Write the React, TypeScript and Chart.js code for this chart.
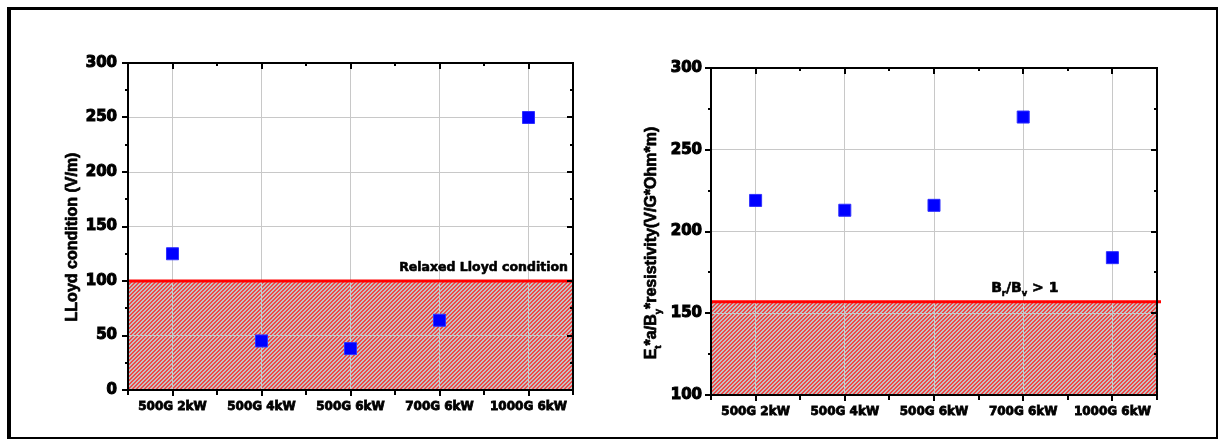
import React, { useEffect, useRef } from 'react';
import { Chart, registerables } from 'chart.js';

Chart.register(...registerables);

// ---------- data ----------
const categories = ['500G 2kW', '500G 4kW', '500G 6kW', '700G 6kW', '1000G 6kW'];

const lloydValues = [125, 45, 38, 64, 250];
const lloydThreshold = 100;
const lloydTicks = [0, 50, 100, 150, 200, 250, 300];

const resistValues = [219, 213, 216, 270, 184];
const resistThreshold = 157;
const resistTicks = [100, 150, 200, 250, 300];

type Seg = { text: string; sub?: boolean };

const lloydTitle: Seg[] = [{ text: 'LLoyd condition (V/m)' }];
const resistTitle: Seg[] = [
  { text: 'E' },
  { text: 't', sub: true },
  { text: '*a/B' },
  { text: 'y', sub: true },
  { text: '*resistivity(V/G*Ohm*m)' },
];
const lloydNote: Seg[] = [{ text: 'Relaxed Lloyd condition' }];
const resistNote: Seg[] = [
  { text: 'B' },
  { text: 'r', sub: true },
  { text: '/B' },
  { text: 'v', sub: true },
  { text: ' > 1' },
];

// ---------- helpers ----------
function drawSegs(
  ctx: CanvasRenderingContext2D,
  segs: Seg[],
  x: number,
  y: number,
  size: number,
  family: string,
  align: 'left' | 'center' | 'right',
  stroke: number
) {
  const subSize = size * 0.6;
  const fontMain = `bold ${size}px ${family}`;
  const fontSub = `bold ${subSize}px ${family}`;
  let total = 0;
  const widths = segs.map((s) => {
    ctx.font = s.sub ? fontSub : fontMain;
    const w = ctx.measureText(s.text).width;
    total += w;
    return w;
  });
  let cx = align === 'left' ? x : align === 'right' ? x - total : x - total / 2;
  ctx.textBaseline = 'alphabetic';
  ctx.textAlign = 'left';
  ctx.strokeStyle = '#000';
  ctx.lineWidth = stroke;
  ctx.lineJoin = 'round';
  segs.forEach((s, i) => {
    ctx.font = s.sub ? fontSub : fontMain;
    const yy = s.sub ? y + size * 0.3 : y;
    ctx.fillText(s.text, cx, yy);
    if (stroke > 0) ctx.strokeText(s.text, cx, yy);
    cx += widths[i];
  });
}

function makePattern(ctx: CanvasRenderingContext2D) {
  const c = document.createElement('canvas');
  c.width = 4;
  c.height = 4;
  const p = c.getContext('2d')!;
  for (let yy = 0; yy < 4; yy++) {
    for (let xx = 0; xx < 4; xx++) {
      p.fillStyle = (xx + yy) % 4 < 2 ? '#f04848' : '#c2c2c2';
      p.fillRect(xx, yy, 1, 1);
    }
  }
  return ctx.createPattern(c, 'repeat');
}

type PanelOpts = {
  values: number[];
  threshold: number;
  ticks: number[];
  min: number;
  max: number;
  minorStep: number;
  padding: { left: number; right: number; top: number; bottom: number };
  xHeight: number;
  yPad: number;
  title: Seg[];
  titleX: number;
  titleY: number;
  note: Seg[];
  noteSize: number;
  noteAlign: 'left' | 'right';
  noteIndex: number; // category anchor (-1 = right edge)
  noteDx: number;
  noteDy: number;
  lineExtend: number;
};

function buildConfig(o: PanelOpts): any {
  let pattern: CanvasPattern | null = null;
  const decor = {
    id: 'decor',
    beforeDraw(chart: any) {
      const { ctx, chartArea } = chart;
      const { left, right, bottom } = chartArea;
      const y = chart.scales.y;
      if (!pattern) pattern = makePattern(ctx);
      const ty = y.getPixelForValue(o.threshold);
      ctx.save();
      ctx.fillStyle = pattern as any;
      ctx.fillRect(left, ty, right - left, bottom - ty);
      ctx.restore();
    },
    beforeDatasetsDraw(chart: any) {
      const { ctx, chartArea } = chart;
      const ty = chart.scales.y.getPixelForValue(o.threshold);
      ctx.save();
      ctx.strokeStyle = '#ff0000';
      ctx.lineWidth = 3;
      ctx.beginPath();
      ctx.moveTo(chartArea.left, ty);
      ctx.lineTo(chartArea.right + o.lineExtend, ty);
      ctx.stroke();
      ctx.restore();
    },
    afterDraw(chart: any) {
      const { ctx, chartArea } = chart;
      const { left, right, top, bottom } = chartArea;
      const xs = chart.scales.x;
      const ys = chart.scales.y;
      ctx.save();
      ctx.strokeStyle = '#000';
      ctx.lineWidth = 2;
      ctx.strokeRect(left, top, right - left, bottom - top);
      ctx.beginPath();
      for (let v = o.min; v <= o.max + 1e-6; v += o.minorStep) {
        const major = Math.abs(v % (o.minorStep * 2)) < 1e-6;
        const py = Math.round(ys.getPixelForValue(v));
        const len = major ? 6 : 3;
        ctx.moveTo(left, py);
        ctx.lineTo(left - len, py);
        ctx.moveTo(right, py);
        ctx.lineTo(right - len, py);
      }
      for (let i = 0; i < categories.length; i++) {
        const px = Math.round(xs.getPixelForValue(i));
        ctx.moveTo(px, bottom);
        ctx.lineTo(px, bottom + 6);
        ctx.moveTo(px, top);
        ctx.lineTo(px, top + 6);
      }
      for (let i = -1; i < categories.length; i++) {
        const px = Math.round(xs.getPixelForValue(i + 0.5));
        ctx.moveTo(px, bottom);
        ctx.lineTo(px, bottom + 5);
        if (i >= 0 && i < categories.length - 1) {
          ctx.moveTo(px, top);
          ctx.lineTo(px, top + 3);
        }
      }
      ctx.stroke();

      // axis title (rotated)
      ctx.fillStyle = '#000';
      ctx.save();
      ctx.translate(o.titleX, o.titleY);
      ctx.rotate(-Math.PI / 2);
      drawSegs(ctx, o.title, 0, 0, 16, '"Liberation Sans", Arial, sans-serif', 'center', 0.7);
      ctx.restore();

      // annotation
      const ty = ys.getPixelForValue(o.threshold);
      const ax = o.noteIndex < 0 ? right : xs.getPixelForValue(o.noteIndex);
      drawSegs(ctx, o.note, ax + o.noteDx, ty + o.noteDy, o.noteSize, '"DejaVu Sans", sans-serif', o.noteAlign, 0.6);
      ctx.restore();
    },
  };

  return {
    type: 'line',
    data: {
      labels: categories,
      datasets: [
        {
          data: o.values,
          showLine: false,
          pointStyle: 'rect',
          pointRadius: 8.5,
          pointHoverRadius: 8.5,
          backgroundColor: '#0000ff',
          borderColor: '#3030ff',
          borderWidth: 1,
        },
      ],
    },
    options: {
      animation: false,
      responsive: false,
      events: [],
      layout: { padding: o.padding },
      plugins: { legend: { display: false }, tooltip: { enabled: false } },
      scales: {
        x: {
          type: 'category',
          offset: true,
          afterFit: (s: any) => {
            s.height = o.xHeight;
          },
          grid: { color: '#c8c8c8', lineWidth: 1, drawTicks: false },
          border: { display: false },
          ticks: {
            color: '#000',
            padding: 10,
            maxRotation: 0,
            autoSkip: false,
            textStrokeColor: '#000',
            textStrokeWidth: 0.8,
            font: { family: '"DejaVu Sans", sans-serif', weight: 'bold', size: 12 },
          },
        },
        y: {
          type: 'linear',
          min: o.min,
          max: o.max,
          afterBuildTicks: (s: any) => {
            s.ticks = o.ticks.map((v) => ({ value: v }));
          },
          afterFit: (s: any) => {
            s.width = 60;
          },
          grid: { color: '#c8c8c8', lineWidth: 1, drawTicks: false },
          border: { display: false },
          ticks: {
            color: '#000',
            padding: o.yPad,
            textStrokeColor: '#000',
            textStrokeWidth: 1.1,
            font: { family: '"DejaVu Sans", sans-serif', weight: 'bold', size: 15 },
          },
        },
      },
    },
    plugins: [decor],
  };
}

function Panel({ config, left, width }: { config: any; left: number; width: number }) {
  const ref = useRef<HTMLCanvasElement>(null);
  useEffect(() => {
    if (!ref.current) return;
    const chart = new Chart(ref.current, config);
    return () => chart.destroy();
  }, [config]);
  return (
    <canvas
      ref={ref}
      width={width}
      height={440}
      style={{ position: 'absolute', left, top: 0, width, height: 440, display: 'block' }}
    />
  );
}

const leftConfig = buildConfig({
  values: lloydValues,
  threshold: lloydThreshold,
  ticks: lloydTicks,
  min: 0,
  max: 300,
  minorStep: 25,
  padding: { left: 68, right: 37, top: 63, bottom: 0 },
  xHeight: 50,
  yPad: 11,
  title: lloydTitle,
  titleX: 77,
  titleY: 237,
  note: lloydNote,
  noteSize: 12.5,
  noteAlign: 'right',
  noteIndex: -1,
  noteDx: -5,
  noteDy: -10,
  lineExtend: 0,
});

const rightConfig = buildConfig({
  values: resistValues,
  threshold: resistThreshold,
  ticks: resistTicks,
  min: 100,
  max: 300,
  minorStep: 25,
  padding: { left: 41, right: 62, top: 68, bottom: 0 },
  xHeight: 45,
  yPad: 9,
  title: resistTitle,
  titleX: 46,
  titleY: 243,
  note: resistNote,
  noteSize: 14,
  noteAlign: 'left',
  noteIndex: 3,
  noteDx: -32,
  noteDy: -10,
  lineExtend: 4,
});

export default function App() {
  return (
    <div
      style={{
        position: 'absolute',
        left: 0,
        top: 0,
        width: 1219,
        height: 440,
        overflow: 'hidden',
        background: '#fff',
      }}
    >
      <div
        style={{
          position: 'absolute',
          left: 7,
          top: 7,
          width: 1211,
          height: 432,
          boxSizing: 'border-box',
          borderLeft: '4px solid #000',
          borderTop: '3px solid #000',
          borderRight: '2px solid #000',
          borderBottom: '2px solid #000',
        }}
      />
      <Panel config={leftConfig} left={0} width={610} />
      <Panel config={rightConfig} left={610} width={609} />
    </div>
  );
}
